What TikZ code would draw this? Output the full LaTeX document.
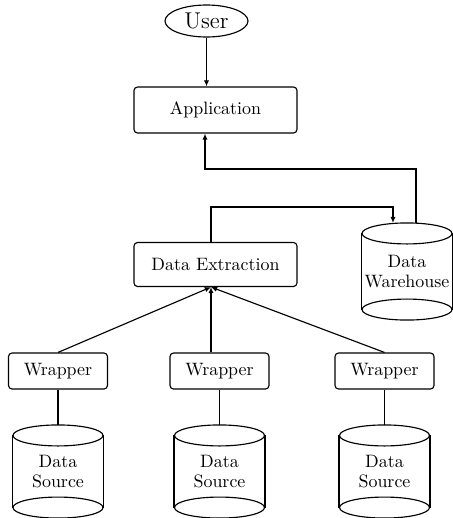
\documentclass[tikz,border=0pt]{standalone}
\usetikzlibrary{arrows.meta, positioning, shapes.geometric}
\tikzset{
  box/.style={draw, rounded corners=2pt, minimum width=3.26cm, minimum height=0.88cm, inner sep=0pt},
  wrapbox/.style={draw, rounded corners=2pt, minimum width=1.98cm, minimum height=0.72cm, inner sep=0pt},
  dbtext/.style={minimum width=1.8cm, minimum height=1.42cm, inner sep=0pt, align=center},
  arr/.style={-{Latex[length=3.5pt,width=3pt]}}
}
% cylinder with its label inside
\newcommand{\dbcyl}[4][]{%
  \node[dbtext,#1] (#2) at #3 {#4};
  \draw (#2.north) ellipse [x radius=0.9cm, y radius=0.21cm];
  \draw (#2.south) ellipse [x radius=0.9cm, y radius=0.21cm];
  \draw (#2.north west) -- (#2.south west) (#2.north east) -- (#2.south east);
  \coordinate (#2 top) at ([yshift=0.21cm]#2.north);
}

\begin{document}
\begin{tikzpicture}[x=0.02cm, y=-0.02cm, line width=0.65pt, font=\fontsize{10.2}{11.3}\selectfont]
    \useasboundingbox (0,0) rectangle (453,518);

    % top: user and application
    \node[draw, ellipse, minimum width=1.66cm, minimum height=0.64cm, inner sep=0pt,
          font=\fontsize{13}{14}\selectfont] (user) at (206.5,21) {User};
    \node[box, minimum height=0.92cm] (app) at (215.5,110) {Application};
    \coordinate (app in) at ([xshift=-0.21cm]app.south);
    \draw[arr] (user.south) -- (user.south |- app.north);

    % middle: extraction and warehouse
    \node[box] (de) at (215.5,264.5) {Data Extraction};
    \coordinate (de in) at ([xshift=-0.09cm]de.south);
    \dbcyl[minimum height=1.5cm]{dw}{(407,271.5)}{Data\\Warehouse}
    \draw[arr] ([xshift=0.18cm]dw top) -- ++(0,-54) -| (app in);
    \draw[arr] ([xshift=-0.09cm]de.north) -- ++(0,-35) -| ([xshift=-0.28cm]dw top);

    % bottom: wrappers and sources
    \node[wrapbox] (w1) at (58,371) {Wrapper};
    \node[wrapbox] (w2) at (219.5,371) {Wrapper};
    \node[wrapbox] (w3) at (384.5,371) {Wrapper};
    \dbcyl{ds1}{(58,471.5)}{Data\\Source}
    \dbcyl{ds2}{(219.5,471.5)}{Data\\Source}
    \dbcyl{ds3}{(384.5,471.5)}{Data\\Source}

    \draw[arr] (w1.north) -- (de in);
    \draw[arr] (de in |- w2.north) -- (de in);
    \draw[arr] (w3.north) -- (de in);
    \draw (w1.south) -- (ds1 top);
    \draw (w2.south) -- (ds2 top);
    \draw (w3.south) -- (ds3 top);
\end{tikzpicture}
\end{document}
